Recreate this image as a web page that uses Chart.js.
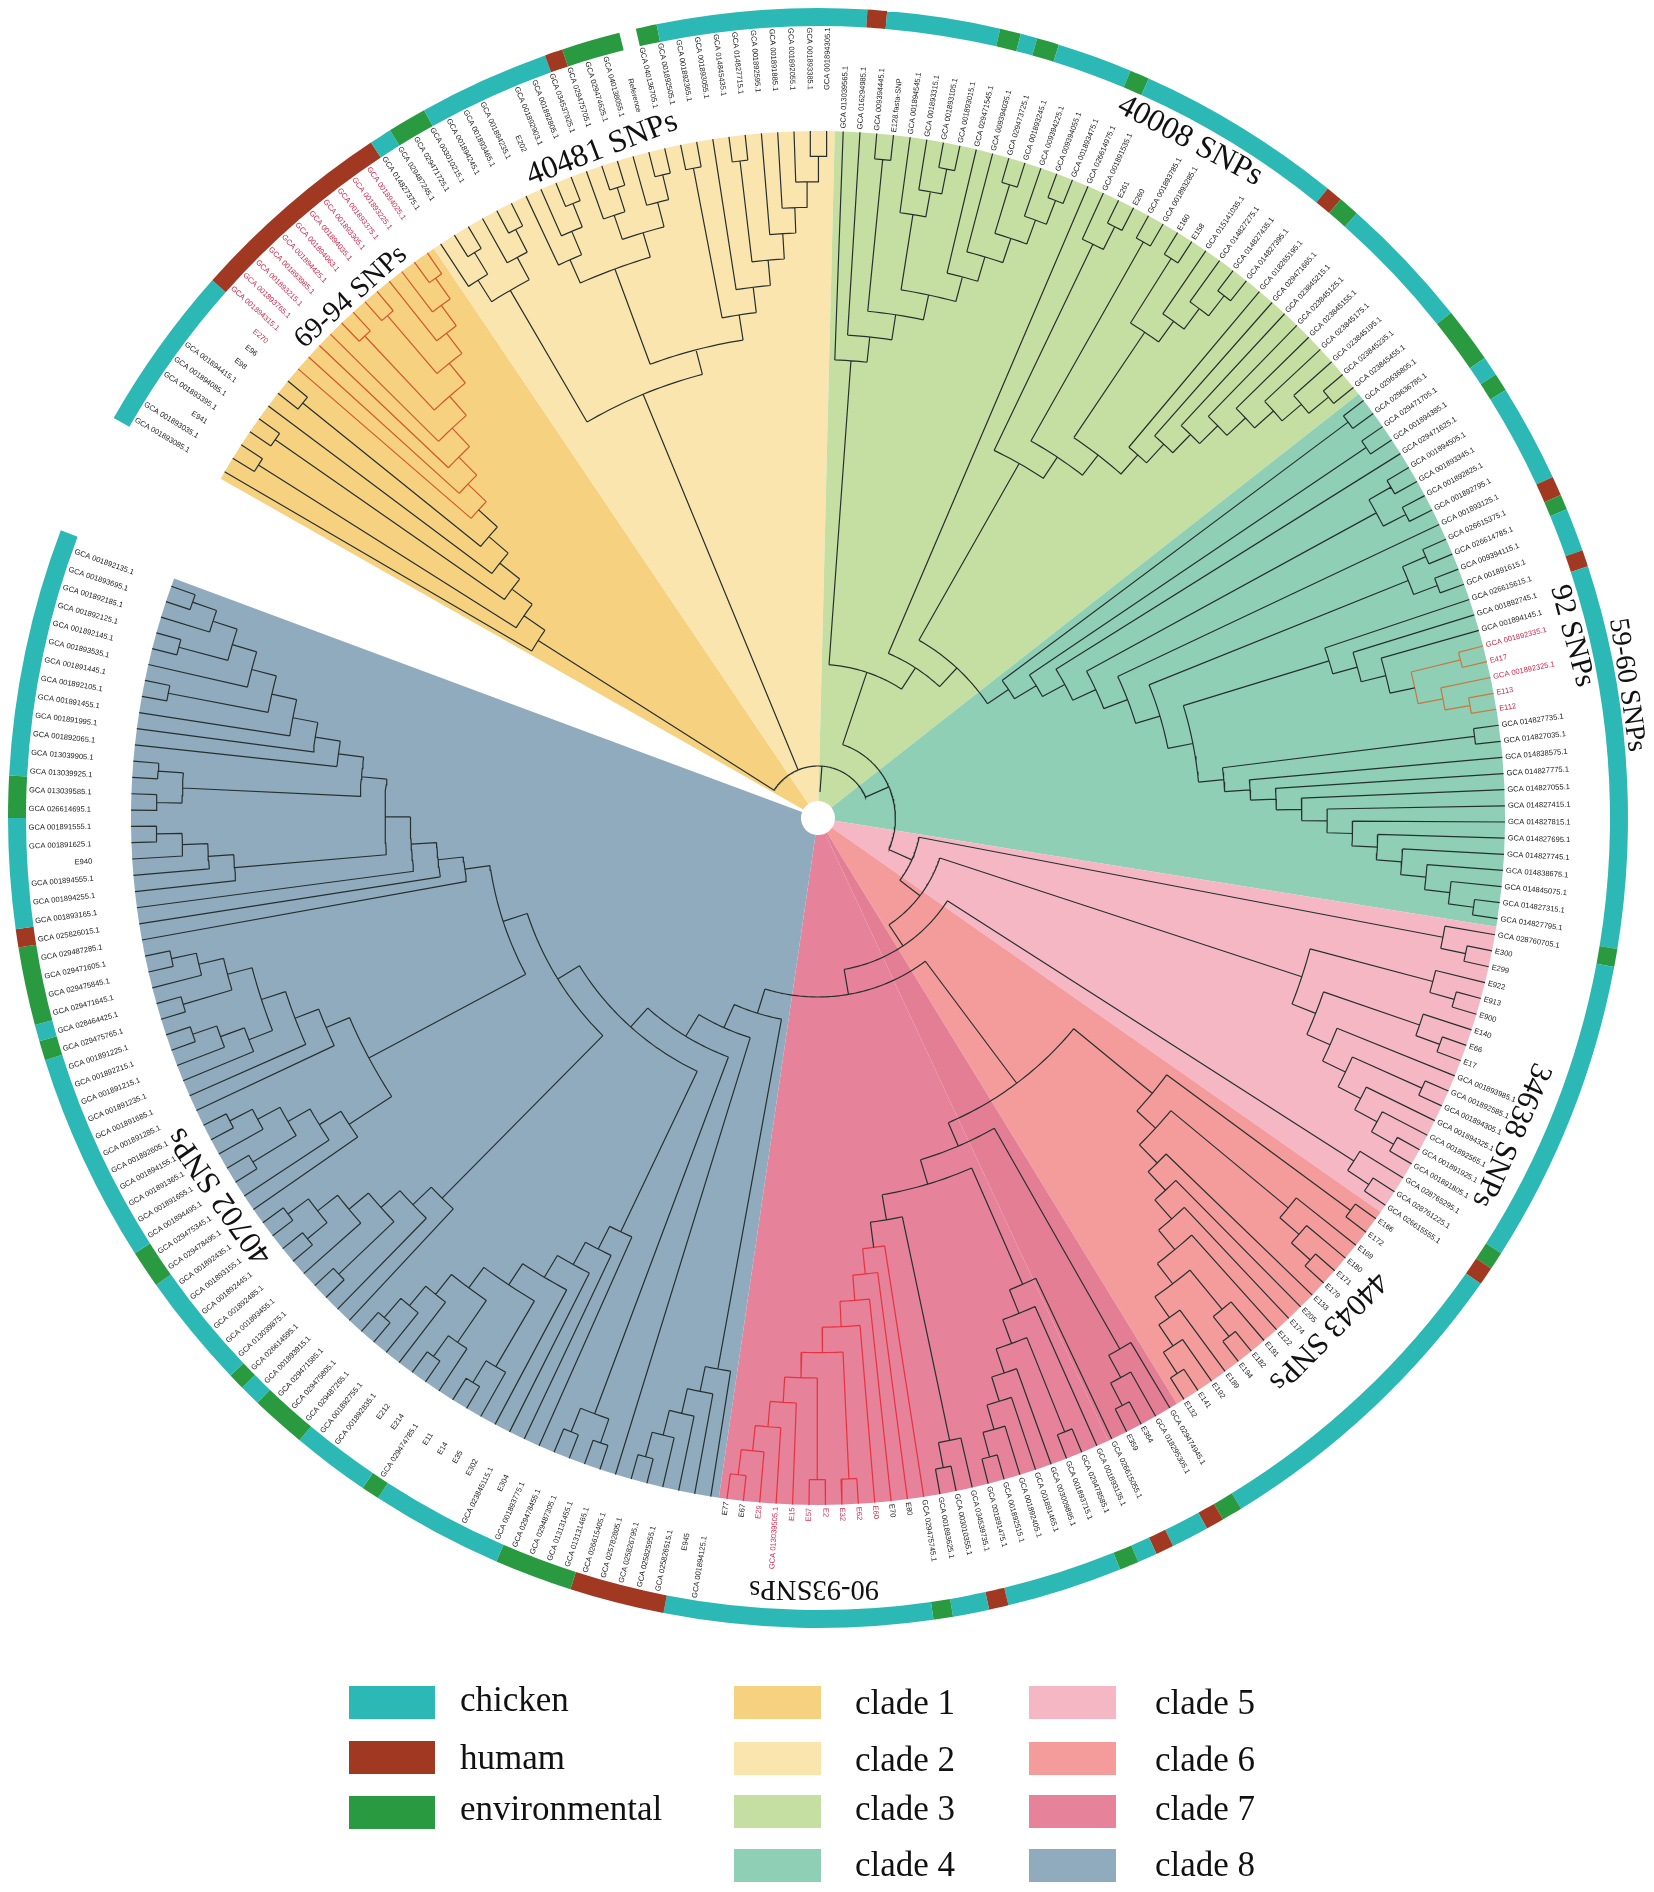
<!DOCTYPE html>
<html>
<head>
<meta charset="utf-8">
<title>Circular tree</title>
<script src="https://cdn.jsdelivr.net/npm/chart.js@4"></script>
<style>
  html, body { margin: 0; padding: 0; background: #fff; }
  canvas { display: block; }
</style>
</head>
<body>
<canvas id="tree" width="1654" height="1892"></canvas>
<script>
// tips of every clade, clockwise from the opening at the upper left
const tips1 = ['GCA 001893085.1','GCA 001893035.1','E941','GCA 001893395.1','GCA 001894085.1','GCA 001894415.1','E98','E96','E270','GCA 001894315.1','GCA 001893765.1','GCA 001893215.1','GCA 001893985.1','GCA 001894425.1','GCA 001894063.1','GCA 001894035.1','GCA 001893305.1','GCA 001893375.1','GCA 001893225.1','GCA 001894025.1'];
const tips2 = ['GCA 014827375.1','GCA 029487245.1','GCA 029471725.1','GCA 003010215.1','GCA 001894245.1','GCA 001893465.1','GCA 001894235.1','E202','GCA 001892903.1','GCA 001892805.1','GCA 034537925.1','GCA 029475705.1','GCA 029474625.1','GCA 040138055.1','Reference','GCA 040136705.1','GCA 001892505.1','GCA 001892365.1','GCA 001893055.1','GCA 014845435.1','GCA 014827715.1','GCA 001892595.1','GCA 001891885.1','GCA 001892055.1','GCA 001893385.1','GCA 001894305.1'];
const tips3 = ['GCA 013039565.1','GCA 016294985.1','GCA 009394445.1','E128.fasta-SNP','GCA 001894545.1','GCA 001893315.1','GCA 001893105.1','GCA 001893015.1','GCA 029471545.1','GCA 009394035.1','GCA 029473725.1','GCA 001893245.1','GCA 009394225.1','GCA 009394055.1','GCA 001893475.1','GCA 026614975.1','GCA 001891535.1','E261','E260','GCA 001893785.1','GCA 001893285.1','E160','E158','GCA 015141035.1','GCA 014827275.1','GCA 014827435.1','GCA 014827395.1','GCA 018265195.1','GCA 029471665.1','GCA 023845215.1','GCA 023845125.1','GCA 023845155.1','GCA 023845175.1','GCA 023845195.1','GCA 023845235.1','GCA 023845455.1'];
const tips4 = ['GCA 029636805.1','GCA 029636785.1','GCA 029471705.1','GCA 001894385.1','GCA 029471625.1','GCA 001894505.1','GCA 001893345.1','GCA 001892825.1','GCA 001892795.1','GCA 001893125.1','GCA 026615375.1','GCA 026614785.1','GCA 009394115.1','GCA 001891615.1','GCA 026615615.1','GCA 001892745.1','GCA 001894145.1','GCA 001892335.1','E417','GCA 001892325.1','E113','E112','GCA 014827735.1','GCA 014827035.1','GCA 014838575.1','GCA 014827775.1','GCA 014827055.1','GCA 014827415.1','GCA 014827815.1','GCA 014827695.1','GCA 014827745.1','GCA 014838675.1','GCA 014845075.1','GCA 014827315.1','GCA 014827795.1'];
const tips5 = ['GCA 028760705.1','E300','E299','E922','E913','E900','E140','E66','E17','GCA 001893985.1','GCA 001892585.1','GCA 001894305.1','GCA 001894325.1','GCA 001892565.1','GCA 001891925.1','GCA 001891805.1','GCA 028765295.1','GCA 028761225.1','GCA 026615555.1'];
const tips6 = ['E166','E172','E169','E180','E171','E179','E133','E205','E174','E122','E191','E182','E194','E189','E192','E141','E132'];
const tips7 = ['GCA 029474945.1','GCA 018295305.1','E364','E359','GCA 026615055.1','GCA 001893135.1','GCA 029478585.1','GCA 001893715.1','GCA 003009895.1','GCA 001891465.1','GCA 001892405.1','GCA 001892515.1','GCA 001891475.1','GCA 034539735.1','GCA 003010355.1','GCA 001893625.1','GCA 029475745.1','E80','E70','E60','E62','E32','E2','E57','E15','GCA 013039505.1','E29','E67','E77'];
const tips8 = ['GCA 001894125.1','E945','GCA 025826515.1','GCA 025825955.1','GCA 025826795.1','GCA 025782805.1','GCA 026615405.1','GCA 013131465.1','GCA 013131455.1','GCA 029487305.1','GCA 029478455.1','GCA 001893775.1','E304','GCA 023845115.1','E302','E35','E14','E11','GCA 029474785.1','E214','E212','GCA 001892835.1','GCA 001892755.1','GCA 029487265.1','GCA 029475805.1','GCA 029471585.1','GCA 001893915.1','GCA 026614595.1','GCA 013039875.1','GCA 001893455.1','GCA 001892485.1','GCA 001892445.1','GCA 001893155.1','GCA 001892435.1','GCA 029478495.1','GCA 029475345.1','GCA 001894495.1','GCA 001891655.1','GCA 001891365.1','GCA 001894155.1','GCA 001892605.1','GCA 001891285.1','GCA 001891685.1','GCA 001891235.1','GCA 001891215.1','GCA 001892215.1','GCA 001891225.1','GCA 029475765.1','GCA 028464425.1','GCA 029471645.1','GCA 029475845.1','GCA 029471605.1','GCA 029487285.1','GCA 025826015.1','GCA 001893165.1','GCA 001894255.1','GCA 001894555.1','E940','GCA 001891625.1','GCA 001891555.1','GCA 026614695.1','GCA 013039585.1','GCA 013039925.1','GCA 013039905.1','GCA 001892065.1','GCA 001891995.1','GCA 001891455.1','GCA 001892105.1','GCA 001891445.1','GCA 001893535.1','GCA 001892145.1','GCA 001892125.1','GCA 001892185.1','GCA 001893695.1','GCA 001892135.1'];

// depth of the node where two neighbouring tips meet, counted in levels from the tips
const depths1 = [14,1,13,1,12,11,1,10,9,8,7,6,1,5,1,4,3,2,1];
const depths2 = [2,1,3,2,1,9,3,2,1,4,2,1,3,2,1,8,1,7,6,1,5,4,3,2,1];
const depths3 = [9,8,1,7,3,2,1,6,5,4,1,3,2,1,21,20,2,1,11,1,10,1,4,3,2,1,9,8,7,6,5,4,3,2,1];
const depths4 = [1,18,1,17,16,1,2,1,15,14,1,2,1,13,6,5,4,1,3,2,1,12,1,11,10,9,8,7,6,5,4,3,2,1];
const depths5 = [2,1,23,2,1,7,2,1,6,5,1,4,3,2,1,22,2,1];
const depths6 = [1,10,3,2,1,9,8,7,6,5,2,1,4,3,2,1];
const depths7 = [3,2,1,13,7,6,1,5,4,3,2,1,12,2,1,11,10,9,8,7,1,6,1,5,4,3,2,1];
const depths8 = [5,4,3,2,1,19,18,1,2,1,17,9,8,7,6,2,1,5,2,1,4,3,2,1,16,6,5,1,4,3,1,2,1,15,5,4,1,3,2,1,7,6,5,3,2,1,4,1,3,2,1,14,13,12,11,4,3,2,1,10,1,2,1,9,8,7,6,1,5,4,1,3,2,1];
const cladeJoins = [25,25,19,24,21,14,20];

// clade edges, degrees clockwise from north
const cladeEdges = [299.6,326,361.4,411.9,459.1,485,508.5,548.3,650.4];
const cladeNames = ['clade 1','clade 2','clade 3','clade 4','clade 5','clade 6','clade 7','clade 8'];
const cladeColors = ['#F6D280','#FAE5AE','#C5DFA3','#8FCFB6','#F6B7C5','#F49B9B','#E6829A','#91ABBE'];

// outer ring: start angle of each run and who it belongs to, last value closes the ring
const ringStarts = [299.6,311.6,326.5,328.1,330.9,340.3,341.6,345.8,347,348.5,363.5,364.9,373,374.5,375.7,377.3,382.7,384.1,399,400.2,401.7,411.4,415.4,416.8,418.1,425.1,426.5,427.6,430.7,431.9,459.3,460.6,482.5,483.8,485.1,508.5,510,511.3,514,515.3,516.7,518.1,526.4,527.8,530.4,531.8,551,557.8,563.4,572.9,574.2,579.8,583.8,585.3,586.5,594.8,597.5,612.6,614,615.2,620.8,622.1,630,633,650.8];
const ringHosts = ['c','h','c','e','c','h','e','','e','c','h','c','e','c','e','c','e','c','h','e','c','e','c','e','c','h','e','c','h','c','e','c','e','h','c','e','h','c','h','c','e','c','h','c','e','c','h','e','c','e','c','e','c','e','c','e','c','e','c','e','h','c','e','c'];
const hostNames = ['chicken','humam','environmental'];
const hostColors = { c: '#2CB8B5', h: '#A03822', e: '#2A9A40', '': 'rgba(0,0,0,0)' };

// tips drawn in red, as [clade, first, last]
const redBranches = [[0,8,19,'#D4562E'],[3,17,21,'#C9773F'],[6,16,28,'#E8323F']];
const redLabels = [[0,8,19],[3,17,21],[6,19,26]];

const snpTexts = ['69-94 SNPs','40481 SNPs','40008 SNPs','92 SNPs','59-60 SNPs','34638 SNPs','44043 SNPs','90-93SNPs','40702 SNPs'];

const allTips = [tips1,tips2,tips3,tips4,tips5,tips6,tips7,tips8];
const allDepths = [depths1,depths2,depths3,depths4,depths5,depths6,depths7,depths8];

const TIP_R = 687;
const STEP = 25.4;
const LABEL_R = [728,728,690,690,690,690,690,727];

// flat lists of tips
const tipAngle = [], tipClade = [], tipIndex = [], joins = [];
allTips.forEach((list, c) => {
    const w = (cladeEdges[c + 1] - cladeEdges[c]) / list.length;
    list.forEach((name, i) => {
        tipAngle.push(cladeEdges[c] + (i + 0.5) * w);
        tipClade.push(c);
        tipIndex.push(i);
    });
    joins.push(...allDepths[c]);
    if (c < cladeJoins.length) joins.push(cladeJoins[c]);
});

function isRed(k) {
    return redBranches.find(b => b[0] === tipClade[k] && tipIndex[k] >= b[1] && tipIndex[k] <= b[2]);
}

const polar = (r, a) => {
    const t = a * Math.PI / 180;
    return { x: r * Math.sin(t), y: r * Math.cos(t) };
};

const gap = { x: null, y: null };
const blackLines = [];
const redLines = redBranches.map(() => []);

function stroke(color, pts) {
    const list = color === null ? blackLines : redLines[color];
    list.push(...pts, gap);
}
function arcPoints(r, a0, a1) {
    const pts = [];
    const n = Math.max(2, Math.ceil((a1 - a0) / 0.8));
    for (let i = 0; i <= n; i++) pts.push(polar(r, a0 + (a1 - a0) * i / n));
    return pts;
}

// split a run of tips at its deepest joins; returns angle, radius and red group
function build(lo, hi) {
    if (lo === hi) {
        const b = isRed(lo);
        return { a: tipAngle[lo], r: TIP_R, red: b ? redBranches.indexOf(b) : null };
    }
    let top = -1;
    for (let i = lo; i < hi; i++) top = Math.max(top, joins[i]);
    const kids = [];
    let start = lo;
    for (let i = lo; i < hi; i++) {
        if (joins[i] === top) { kids.push(build(start, i)); start = i + 1; }
    }
    kids.push(build(start, hi));
    const r = TIP_R - top * STEP;
    const first = kids[0], last = kids[kids.length - 1];
    const red = kids.every(k => k.red !== null && k.red === first.red) ? first.red : null;
    stroke(red, arcPoints(r, first.a, last.a));
    kids.forEach(k => {
        stroke(red !== null ? red : null, [polar(r, k.a), polar(k.r, k.a)]);
    });
    return { a: (first.a + last.a) / 2, r, red };
}

const root = build(0, tipAngle.length - 1);
stroke(null, [polar(26, root.a), polar(root.r, root.a)]);

// wedge slices; clade 7 has a slightly darker strip next to clade 6
const STRIP = 6.5;
const wedgeData = [], wedgeColors = [];
cladeEdges.slice(0, -1).forEach((e, c) => {
    const span = cladeEdges[c + 1] - e;
    if (c === 6) {
        wedgeData.push(STRIP, span - STRIP);
        wedgeColors.push('#E37E95', cladeColors[c]);
    } else {
        wedgeData.push(span);
        wedgeColors.push(cladeColors[c]);
    }
});
wedgeData.push(360 - (cladeEdges[8] - cladeEdges[0]));
wedgeColors.push('rgba(0,0,0,0)');

const ringData = ringHosts.map((h, i) => ringStarts[i + 1] - ringStarts[i]);
const ringColors = ringHosts.map(h => hostColors[h]);
ringData.push(360 - (ringStarts[ringStarts.length - 1] - ringStarts[0]));
ringColors.push('rgba(0,0,0,0)');

// everything that is text: tip names, SNP notes, legend
const textPlugin = {
    id: 'textPlugin',
    afterDatasetsDraw(chart) {
        const ctx = chart.ctx;
        const sx = chart.scales.x, sy = chart.scales.y;
        ctx.save();
        ctx.textBaseline = 'middle';
        ctx.font = '7.55px "Liberation Sans", Arial, sans-serif';
        let k = 0;
        allTips.forEach((list, c) => {
            list.forEach((name, i) => {
                const a = tipAngle[k];
                const p = polar(LABEL_R[c], a);
                const red = redLabels.some(b => b[0] === c && i >= b[1] && i <= b[2]);
                const right = (a % 360) < 180;
                ctx.save();
                ctx.translate(sx.getPixelForValue(p.x), sy.getPixelForValue(p.y));
                ctx.rotate(((right ? a - 90 : a + 90) * Math.PI) / 180);
                ctx.textAlign = right ? 'left' : 'right';
                ctx.fillStyle = red ? '#D0284A' : '#222222';
                ctx.fillText(name, 0, 0);
                ctx.restore();
                k++;
            });
        });

        const notes = [
            [351, 297, -41.6, 29], [602, 149, -21, 32], [1190, 141, 28, 32],
            [1572, 636, 75, 30], [1627, 685, 81.7, 28], [1511, 1135, 113.8, 31],
            [1328, 1331, 134.6, 31], [814, 1588, 180, 28.5], [220, 1196, 235, 32]
        ];
        ctx.fillStyle = '#111111';
        ctx.textAlign = 'center';
        snpTexts.forEach((t, i) => {
            const n = notes[i];
            ctx.save();
            ctx.translate(n[0], n[1]);
            ctx.rotate(n[2] * Math.PI / 180);
            ctx.font = n[3] + 'px "Liberation Serif", "Times New Roman", serif';
            ctx.fillText(t, 0, 0);
            ctx.restore();
        });

        ctx.textAlign = 'left';
        ctx.font = '35px "Liberation Serif", "Times New Roman", serif';
        const hostY = [1686, 1741, 1796];
        const hostTextY = [1702, 1760, 1811];
        hostNames.forEach((name, i) => {
            ctx.fillStyle = hostColors['che'[i]];
            ctx.fillRect(349, hostY[i], 86, 33);
            ctx.fillStyle = '#111111';
            ctx.fillText(name, 460, hostTextY[i]);
        });
        const cladeY = [1686, 1742, 1795, 1849];
        const cladeTextY = [1705, 1762, 1811, 1867];
        cladeNames.forEach((name, i) => {
            const col = i < 4 ? 0 : 1;
            ctx.fillStyle = cladeColors[i];
            ctx.fillRect(col ? 1029 : 734, cladeY[i % 4], 87, 33);
            ctx.fillStyle = '#111111';
            ctx.fillText(name, col ? 1155 : 855, cladeTextY[i % 4]);
        });
        ctx.restore();
    }
};

const lineSet = (data, color) => ({
    type: 'scatter', data, showLine: true, spanGaps: false, pointRadius: 0,
    borderColor: color, borderWidth: 1.2, weight: 0, order: 0, clip: false
});

new Chart(document.getElementById('tree'), {
    type: 'scatter',
    data: {
        datasets: [
            { type: 'doughnut', data: ringData, backgroundColor: ringColors, borderWidth: 0,
              rotation: ringStarts[0], weight: 18, cutout: (17 / 810 * 100) + '%', order: 2 },
            { type: 'doughnut', data: [1], backgroundColor: ['rgba(0,0,0,0)'], borderWidth: 0,
              weight: 105, cutout: (17 / 810 * 100) + '%', order: 2 },
            { type: 'doughnut', data: wedgeData, backgroundColor: wedgeColors, borderWidth: 0,
              rotation: cladeEdges[0], weight: 670, cutout: (17 / 810 * 100) + '%', order: 2 },
            lineSet(blackLines, '#26302F'),
            ...redBranches.map((b, i) => lineSet(redLines[i], b[3]))
        ]
    },
    options: {
        responsive: false,
        animation: false,
        devicePixelRatio: 1,
        layout: { padding: { left: 8, top: 8, right: 26, bottom: 264 } },
        scales: {
            x: { type: 'linear', min: -810, max: 810, display: false },
            y: { type: 'linear', min: -810, max: 810, display: false }
        },
        plugins: { legend: { display: false }, tooltip: { enabled: false } },
        events: []
    },
    plugins: [textPlugin]
});
</script>
</body>
</html>
